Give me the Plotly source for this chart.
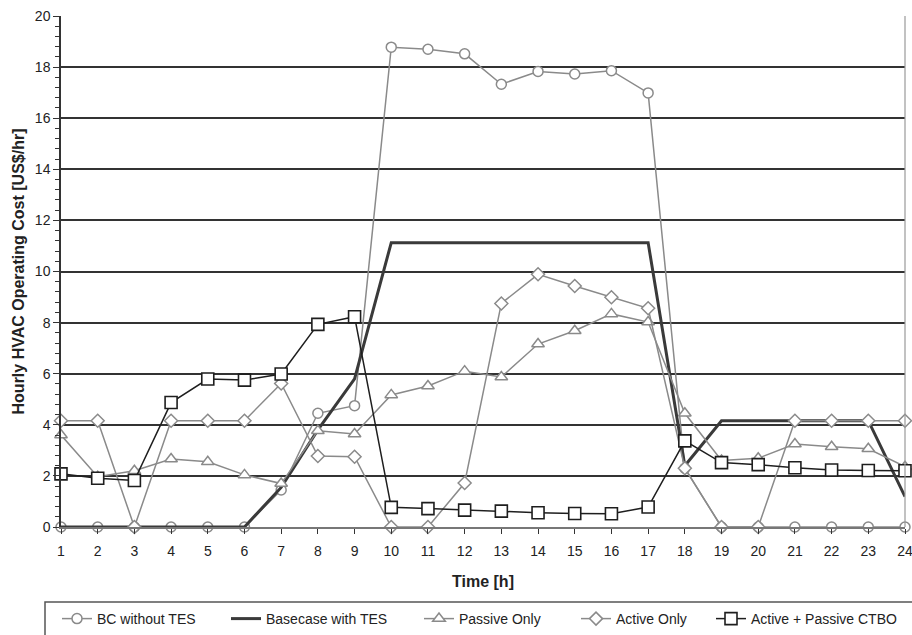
import plotly.graph_objects as go

hours = list(range(1, 25))
bc_without_tes = [0, 0, 0, 0, 0, 0, 1.45, 4.45, 4.75, 18.78, 18.7, 18.52, 17.33, 17.83, 17.73, 17.86, 16.99,
                  2.3, 0, 0, 0, 0, 0, 0]
basecase_with_tes = [0, 0, 0, 0, 0, 0, 1.55, 3.8, 5.8, 11.13, 11.13, 11.13, 11.13, 11.13, 11.13, 11.13, 11.13,
                     2.4, 4.16, 4.16, 4.16, 4.16, 4.16, 1.19]
passive_only = [3.6, 1.97, 2.2, 2.66, 2.55, 2.04, 1.7, 3.77, 3.64, 5.17, 5.52, 6.1, 5.87, 7.16, 7.68, 8.34, 8.02,
                4.45, 2.6, 2.69, 3.25, 3.14, 3.06, 2.36]
active_only = [4.16, 4.16, 0, 4.16, 4.16, 4.16, 5.62, 2.78, 2.75, 0, 0, 1.72, 8.75, 9.89, 9.43, 8.99, 8.56,
               2.3, 0, 0, 4.16, 4.16, 4.16, 4.16]
active_passive_ctbo = [2.08, 1.91, 1.82, 4.87, 5.79, 5.75, 5.99, 7.93, 8.23, 0.77, 0.72, 0.66, 0.62, 0.56, 0.53,
                       0.52, 0.78, 3.37, 2.52, 2.44, 2.32, 2.23, 2.21, 2.2]

series_names = ["BC without TES", "Basecase with TES", "Passive Only", "Active Only", "Active + Passive CTBO"]

FONT = "Liberation Sans, Arial, sans-serif"
GRAY = "#8a8a8a"
DARK = "#3a3a3a"
BLACK = "#1e1e1e"

fig = go.Figure()
fig.add_trace(go.Scatter(x=hours, y=bc_without_tes, name=series_names[0], mode="lines+markers",
                         line=dict(color=GRAY, width=1.5),
                         marker=dict(symbol="circle", size=10, color="white", line=dict(color=GRAY, width=1.5)),
                         cliponaxis=False, legend="legend"))
fig.add_trace(go.Scatter(x=hours, y=basecase_with_tes, name=series_names[1], mode="lines",
                         line=dict(color=DARK, width=3), cliponaxis=False, legend="legend2"))
fig.add_trace(go.Scatter(x=hours, y=passive_only, name=series_names[2], mode="lines+markers",
                         line=dict(color=GRAY, width=1.5),
                         marker=dict(symbol="triangle-up", size=11, color="white", line=dict(color=GRAY, width=1.5)),
                         cliponaxis=False, legend="legend3"))
fig.add_trace(go.Scatter(x=hours, y=active_only, name=series_names[3], mode="lines+markers",
                         line=dict(color=GRAY, width=1.5),
                         marker=dict(symbol="diamond", size=10, color="white", line=dict(color=GRAY, width=1.5)),
                         cliponaxis=False, legend="legend4"))
fig.add_trace(go.Scatter(x=hours, y=active_passive_ctbo, name=series_names[4], mode="lines+markers",
                         line=dict(color=BLACK, width=1.5),
                         marker=dict(symbol="square", size=12, color="white", line=dict(color=BLACK, width=1.6)),
                         cliponaxis=False, legend="legend5"))

L, R, T, B = 61, 7, 16, 108
W, H = 912, 635
pw = W - L - R
ph = H - T - B


def px_x(p):
    return (p - L) / pw


def px_y(p):
    return (H - B - p) / ph


legend_common = dict(orientation="h", xanchor="left", yanchor="middle", bgcolor="rgba(0,0,0,0)",
                     borderwidth=0, font=dict(family=FONT, size=14, color="#222"),
                     itemwidth=30, tracegroupgap=0, xref="container", yref="container")
legend_lefts = [57, 226, 419, 576, 711]
layout_legends = {}
for i, lx in enumerate(legend_lefts):
    key = "legend" if i == 0 else f"legend{i + 1}"
    layout_legends[key] = dict(legend_common, x=lx / W, y=(H - 619) / H)

fig.update_layout(
    width=W, height=H,
    margin=dict(l=L, r=R, t=T, b=B, autoexpand=False),
    paper_bgcolor="white", plot_bgcolor="white",
    font=dict(family=FONT, size=14, color="#222"),
    showlegend=True,
    **layout_legends,
    xaxis=dict(range=[1, 24], tickmode="array", tickvals=hours, ticktext=[str(h) for h in hours],
               showgrid=False, zeroline=False, showline=True, linecolor="#777", linewidth=1.5,
               ticks="outside", ticklen=5, tickcolor="#333", tickwidth=1.2,
               ticklabelstandoff=5, ticklabeloverflow="allow",
               tickfont=dict(family=FONT, size=14, color="#222"),
               title=dict(text="<b>Time [h]</b>", font=dict(family=FONT, size=16, color="#222"), standoff=18)),
    yaxis=dict(range=[0, 20], tickmode="linear", tick0=0, dtick=2,
               showgrid=True, gridcolor="#333", gridwidth=1.5, zeroline=False,
               showline=True, linecolor="#333", linewidth=1.5,
               ticks="outside", ticklen=6, tickcolor="#333", tickwidth=1.2,
               minor=dict(dtick=0.4, tick0=0, ticks="outside", ticklen=4, tickcolor="#333", tickwidth=1, showgrid=False),
               tickfont=dict(family=FONT, size=14, color="#222"),
               title=dict(text="<b>Hourly HVAC Operating Cost [US$/hr]</b>",
                          font=dict(family=FONT, size=16, color="#222"), standoff=6)),
    shapes=[
        dict(type="line", xref="paper", yref="paper", x0=1, x1=1, y0=0, y1=1,
             line=dict(color="#999", width=1.2)),
        dict(type="rect", xref="paper", yref="paper", x0=px_x(45), x1=px_x(930), y0=px_y(602), y1=px_y(660),
             line=dict(color="#555", width=1.5), fillcolor="rgba(0,0,0,0)", layer="below"),
    ],
)

fig.write_html("out.html")
